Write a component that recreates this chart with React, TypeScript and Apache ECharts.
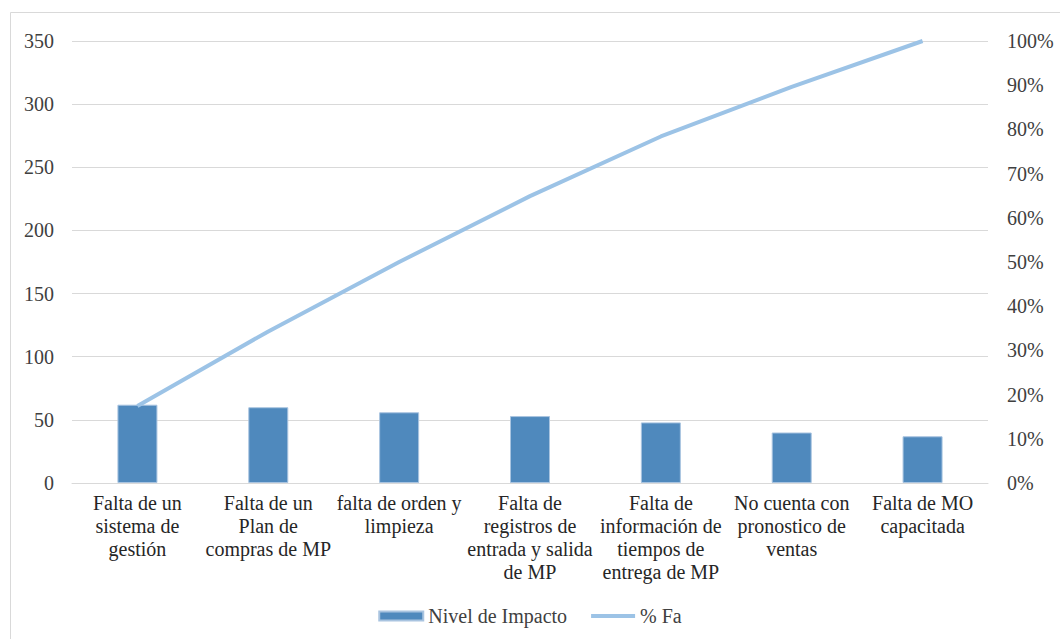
import React, { useEffect, useRef } from "react";
import * as echarts from "echarts";

const categories = [
  "Falta de un\nsistema de\ngestión",
  "Falta de un\nPlan de\ncompras de MP",
  "falta de orden y\nlimpieza",
  "Falta de\nregistros de\nentrada y salida\nde MP",
  "Falta de\ninformación de\ntiempos de\nentrega de MP",
  "No cuenta con\npronostico de\nventas",
  "Falta de MO\ncapacitada",
];
const impacto = [62, 60, 56, 53, 48, 40, 37];
const pctFa = [17.4, 34.3, 50.0, 64.9, 78.4, 89.6, 100];
const leftTicks = [0, 350, 50];
const rightTicks = [0, 100, 10];

const SERIF = "Liberation Serif";

export default function App() {
  const ref = useRef<HTMLDivElement>(null);
  useEffect(() => {
    const chart = echarts.init(ref.current!, null, { renderer: "svg" });
    chart.setOption({
      animation: false,
      backgroundColor: "#ffffff",
      textStyle: { fontFamily: SERIF },
      graphic: [
        {
          type: "rect",
          shape: { x: 10.5, y: 12.5, width: 1060, height: 640 },
          style: { fill: "none", stroke: "#d9d9d9", lineWidth: 1 },
          silent: true,
        },
      ],
      grid: { left: 72, right: 72, top: 41, bottom: 156 },
      legend: {
        bottom: 8,
        left: "center",
        itemGap: 24,
        itemWidth: 44,
        itemHeight: 9,
        textStyle: { fontFamily: SERIF, fontSize: 20, color: "#404040" },
        data: [
          { name: "Nivel de Impacto", icon: "rect" },
          {
            name: "% Fa",
            icon: "path://M0,0h44v4h-44z",
            itemStyle: { color: "#9cc3e6", borderWidth: 0 },
          },
        ],
      },
      xAxis: {
        type: "category",
        data: categories,
        axisLine: { lineStyle: { color: "#d9d9d9", width: 1 } },
        axisTick: { show: false },
        axisLabel: {
          interval: 0,
          fontFamily: SERIF,
          fontSize: 20,
          lineHeight: 23,
          color: "#262626",
          margin: 8,
        },
      },
      yAxis: [
        {
          type: "value",
          min: leftTicks[0],
          max: leftTicks[1],
          interval: leftTicks[2],
          axisLine: { show: false },
          axisTick: { show: false },
          splitLine: { lineStyle: { color: "#d9d9d9", width: 1 } },
          axisLabel: {
            fontFamily: SERIF,
            fontSize: 20,
            color: "#404040",
            margin: 18,
          },
        },
        {
          type: "value",
          min: rightTicks[0],
          max: rightTicks[1],
          interval: rightTicks[2],
          axisLine: { show: false },
          axisTick: { show: false },
          splitLine: { show: false },
          axisLabel: {
            formatter: "{value}%",
            fontFamily: SERIF,
            fontSize: 20,
            color: "#404040",
            margin: 19,
          },
        },
      ],
      series: [
        {
          name: "Nivel de Impacto",
          type: "bar",
          data: impacto,
          barWidth: 40,
          itemStyle: { color: "#4f89bd", borderColor: "#a9c4e0", borderWidth: 1 },
        },
        {
          name: "% Fa",
          type: "line",
          yAxisIndex: 1,
          data: pctFa,
          symbol: "none",
          lineStyle: { color: "#9cc3e6", width: 4 },
          itemStyle: { color: "#9cc3e6" },
        },
      ],
    });
    return () => chart.dispose();
  }, []);
  return (
    <div
      ref={ref}
      style={{ position: "absolute", left: 0, top: 0, width: 1060, height: 639 }}
    />
  );
}
